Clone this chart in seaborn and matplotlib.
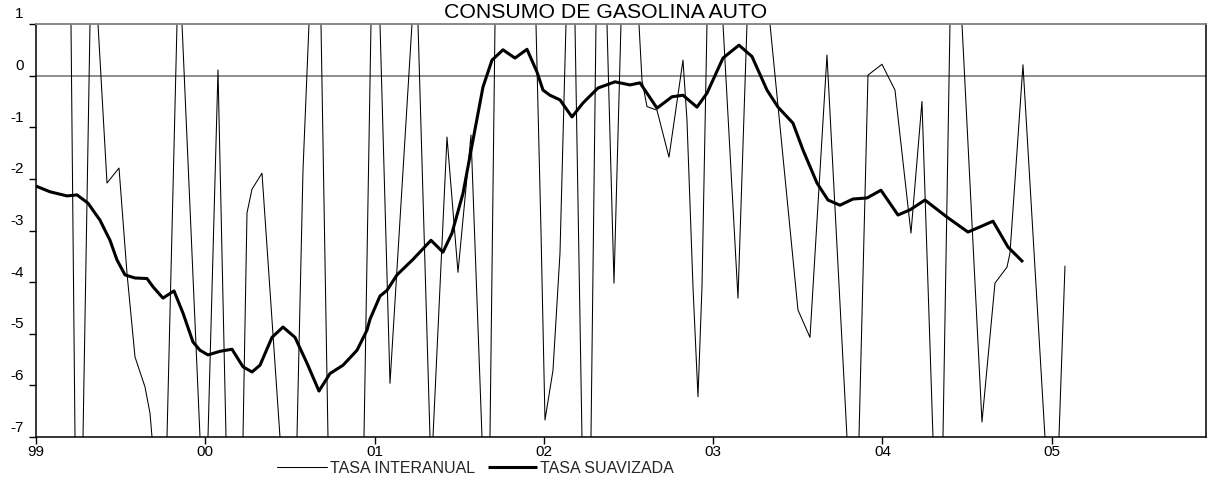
import matplotlib
matplotlib.use("Agg")
import matplotlib.pyplot as plt
import matplotlib.transforms as mtransforms
import pandas as pd
import seaborn as sns

sns.set_theme(style="white")
plt.rcParams["font.family"] = ["Liberation Sans", "DejaVu Sans"]
plt.rcParams["axes.unicode_minus"] = False

# tasa interanual: fecha (años decimales) y valor; se sale del rango a menudo
interanual_x = [
    1999.000, 1999.2067, 1999.2304, 1999.2540, 1999.2776, 1999.3190, 1999.3426,
    1999.3662, 1999.4194, 1999.4903, 1999.5375, 1999.5848, 1999.6438, 1999.6734,
    1999.6852, 1999.7324, 1999.7738, 1999.8328, 1999.8476, 1999.8624, 1999.9687,
    1999.9923, 2000.0159, 2000.0750, 2000.1223, 2000.1695, 2000.2227, 2000.2463,
    2000.2758, 2000.3349, 2000.4412, 2000.4885, 2000.5416, 2000.5771, 2000.6125,
    2000.6480, 2000.6834, 2000.7247, 2000.8311, 2000.9374, 2000.9787, 2001.0024,
    2001.0319, 2001.0910, 2001.2209, 2001.2386, 2001.2564, 2001.3272, 2001.3361,
    2001.3449, 2001.4277, 2001.4926, 2001.5694, 2001.6344, 2001.6580, 2001.6816,
    2001.7112, 2001.8293, 2001.9533, 2001.9828, 2002.0065, 2002.0537, 2002.0951,
    2002.1305, 2002.1542, 2002.1837,
    2002.2250, 2002.2487, 2002.2782, 2002.3077, 2002.3373, 2002.3727, 2002.4141,
    2002.4554, 2002.5086, 2002.5617, 2002.5795, 2002.6090, 2002.6680, 2002.7389,
    2002.8216, 2002.8452, 2002.8807, 2002.9102, 2002.9339, 2002.9634, 2003.0106,
    2003.0579, 2003.1465, 2003.1996,
    2003.2646, 2003.3355, 2003.5009, 2003.5718, 2003.6722, 2003.7903, 2003.8257,
    2003.8612, 2003.9144, 2003.9970, 2004.0738, 2004.1683, 2004.2333, 2004.2983,
    2004.3278, 2004.3574, 2004.3987, 2004.4341, 2004.4696, 2004.5877, 2004.6645,
    2004.7354, 2004.7531, 2004.8299, 2004.9598, 2005.0012, 2005.0425, 2005.0780,
]
interanual_y = [
    3.0, 1.0, -7.0, -9.0, -7.0, 1.0, 2.5,
    1.0, -2.08, -1.79, -3.83, -5.45, -6.03, -6.54,
    -7.0, -9.0, -7.0, 1.0, 1.6, 1.0, -7.0,
    -8.0, -7.0, 0.11, -7.0, -9.0, -7.0, -2.66,
    -2.2, -1.89, -7.0, -9.0, -7.0, -1.83, 1.0,
    2.5, 1.0, -7.0, -10.0, -7.0, 1.0, 2.5,
    1.0, -5.96, 1.0, 1.15, 1.0, -7.0, -7.5,
    -7.0, -1.19, -3.81, -1.15, -7.0, -8.5, -7.0,
    1.0, 5.0, 1.0, -3.0, -6.67, -5.71, -3.44,
    1.0, 2.0, 1.0,
    -7.0, -8.0, -7.0, 1.0, 2.5, 1.0, -4.02,
    1.0, 3.0, 1.0, -0.09, -0.60, -0.67, -1.58,
    0.30, -0.86, -4.09, -6.22, -4.09, 1.0, 3.0,
    1.0, -4.31, 1.0,
    3.0, 1.0, -4.54, -5.07, 0.40, -7.0, -9.0,
    -7.0, 0.01, 0.22, -0.28, -3.05, -0.50, -7.0,
    -8.5, -7.0, 1.0, 2.5, 1.0, -6.71, -4.02,
    -3.71, -3.44, 0.21, -7.0, -9.0, -7.0, -3.69,
]

# tasa suavizada
suavizada_x = [
    1999.000, 1999.0827, 1999.1831, 1999.2422, 1999.3071, 1999.3780, 1999.4371,
    1999.4784, 1999.5257, 1999.5848, 1999.6556, 1999.6911, 1999.7501, 1999.8151,
    1999.8683, 1999.9273, 1999.9687, 2000.0159, 2000.0868, 2000.1577, 2000.2227,
    2000.2758, 2000.3231, 2000.3940, 2000.4590, 2000.5298, 2000.6007, 2000.6716,
    2000.7366, 2000.8134, 2000.8961, 2000.9551, 2000.9728, 2001.0319, 2001.0732,
    2001.1323, 2001.2268, 2001.3331, 2001.4040, 2001.4572, 2001.5222, 2001.5812,
    2001.6403, 2001.6934, 2001.7584, 2001.8293, 2001.9002, 2001.9593, 2001.9947,
    2002.0360, 2002.0951, 2002.1660, 2002.2310, 2002.3196, 2002.4200, 2002.5086,
    2002.5677, 2002.6090, 2002.6680, 2002.7566, 2002.8216, 2002.9043, 2002.9634,
    2003.0579, 2003.1524, 2003.2292, 2003.3178, 2003.3828, 2003.4713, 2003.5304,
    2003.6131, 2003.6781, 2003.7490, 2003.8257, 2003.9084, 2003.9911, 2004.0916,
    2004.1624, 2004.2510, 2004.3810, 2004.5050, 2004.5759, 2004.6527, 2004.7413,
    2004.8299,
]
suavizada_y = [
    -2.14, -2.25, -2.33, -2.31, -2.47, -2.80, -3.19,
    -3.57, -3.86, -3.92, -3.93, -4.09, -4.31, -4.17,
    -4.60, -5.16, -5.32, -5.41, -5.34, -5.30, -5.64,
    -5.74, -5.61, -5.07, -4.87, -5.07, -5.57, -6.11,
    -5.77, -5.61, -5.32, -4.93, -4.72, -4.27, -4.16,
    -3.86, -3.56, -3.19, -3.42, -3.05, -2.28, -1.25,
    -0.22, 0.30, 0.50, 0.34, 0.51, 0.07, -0.28,
    -0.38, -0.47, -0.80, -0.53, -0.24, -0.12, -0.18,
    -0.14, -0.34, -0.63, -0.41, -0.38, -0.61, -0.34,
    0.34, 0.59, 0.37, -0.28, -0.61, -0.92, -1.44,
    -2.08, -2.41, -2.51, -2.39, -2.37, -2.22, -2.70,
    -2.60, -2.41, -2.74, -3.03, -2.93, -2.82, -3.32,
    -3.61,
]

year_ticks = [1999, 2000, 2001, 2002, 2003, 2004, 2005]
year_labels = ["99", "00", "01", "02", "03", "04", "05"]
value_ticks = [1, 0, -1, -2, -3, -4, -5, -6, -7]

df_int = pd.DataFrame({"fecha": interanual_x, "tasa": interanual_y})
df_suav = pd.DataFrame({"fecha": suavizada_x, "tasa": suavizada_y})

W, H = 1210, 483
fig = plt.figure(figsize=(W / 100, H / 100), dpi=100)
ax = fig.add_axes([36 / W, 1 - 437 / H, 1170 / W, 413 / H])

ax.axhline(0, color="#707070", linewidth=1.1, zorder=1)
sns.lineplot(data=df_int, x="fecha", y="tasa", ax=ax, color="black",
             linewidth=0.75, estimator=None, sort=False,
             label="TASA INTERANUAL", zorder=2)
sns.lineplot(data=df_suav, x="fecha", y="tasa", ax=ax, color="black",
             linewidth=2.2, estimator=None, sort=False,
             label="TASA SUAVIZADA", zorder=3,
             solid_joinstyle="round", solid_capstyle="butt")

ax.set_xlim(1999, 2005.911)
ax.set_ylim(-7, 1)
ax.set_xticks(year_ticks)
ax.set_xticklabels(year_labels)
ax.set_yticks(value_ticks)
ax.set_xlabel("")
ax.set_ylabel("")
ax.grid(False)

for side in ["left", "bottom", "right"]:
    ax.spines[side].set_color("black")
    ax.spines[side].set_linewidth(1.1)
ax.spines["top"].set_color("#808080")
ax.spines["top"].set_linewidth(1.3)

ax.tick_params(axis="both", which="major", bottom=True, left=True,
               direction="out", length=5, width=1, color="black",
               labelsize=11, labelcolor="black")
ax.tick_params(axis="x", pad=1)
ax.tick_params(axis="y", pad=4)

# y labels sit above their tick, as in the original
shift = mtransforms.ScaledTranslation(0, 11 / 100, fig.dpi_scale_trans)
for lab in ax.get_yticklabels():
    lab.set_transform(lab.get_transform() + shift)

fig.text(606 / W, 1 - 12.5 / H, "CONSUMO DE GASOLINA AUTO", ha="center",
         va="center", fontsize=15.3, color="black")

ax.legend(loc="upper left", bbox_to_anchor=(277 / W, 1 - 461 / H),
          bbox_transform=fig.transFigure, ncol=2, frameon=False,
          fontsize=11.5, handlelength=3.1, handletextpad=0.2,
          columnspacing=0.8, borderpad=0, borderaxespad=0)

fig.savefig("out.png", dpi=100)
